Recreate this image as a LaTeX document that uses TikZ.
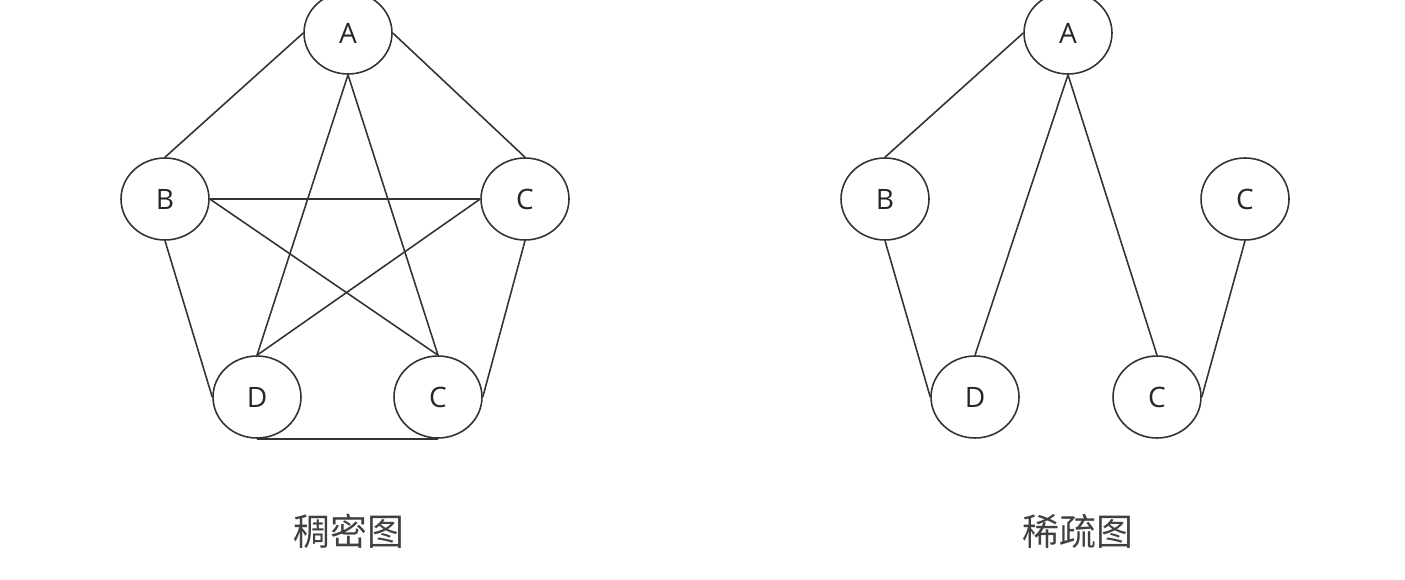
\documentclass[tikz,border=0pt]{standalone}
\usepackage{fontspec}
\setmainfont{Open Sans}
\newfontfamily\cjk{Noto Sans CJK SC}
\usetikzlibrary{shapes.geometric}

\begin{document}
\begin{tikzpicture}[x=0.02cm,y=-0.02cm,v/.style={draw=black!80,ellipse,line width=.9pt,minimum width=1.76cm,minimum height=1.64cm,inner sep=0pt,font=\fontsize{16}{18}\selectfont,text=black!85},e/.style={draw=black!80,line width=.9pt},title/.style={font=\cjk\fontsize{21}{24}\selectfont,text=black!75}]
\useasboundingbox (0,0) rectangle (1405,580);
% dense graph
\node[v] (a) at (348,33) {A};
\node[v] (b) at (165,199) {B};
\node[v] (c) at (525,199) {C};
\node[v] (d) at (257,397) {D};
\node[v] (e) at (438,397) {C};
\draw[e] (a.west)--(b.north); \draw[e] (a.east)--(c.north);
\draw[e] (a.south)--(d.north); \draw[e] (a.south)--(e.north);
\draw[e] (b.south)--(d.west); \draw[e] (c.south)--(e.east);
\draw[e] (b.east)--(c.west); \draw[e] (b.east)--(e.north);
\draw[e] (c.west)--(d.north); \draw[e] (d.south)--(e.south);
\node[title] (t1) at (349,531) {稠密图};
% sparse graph
\node[v] (ra) at (1068,33) {A};
\node[v] (rb) at (885,199) {B};
\node[v] (rc) at (1245,199) {C};
\node[v] (rd) at (975,397) {D};
\node[v] (re) at (1157,397) {C};
\draw[e] (ra.west)--(rb.north);
\draw[e] (ra.south)--(rd.north); \draw[e] (ra.south)--(re.north);
\draw[e] (rb.south)--(rd.west); \draw[e] (rc.south)--(re.east);
\node[title] (t2) at (1078,531) {稀疏图};
\end{tikzpicture}
\end{document}
